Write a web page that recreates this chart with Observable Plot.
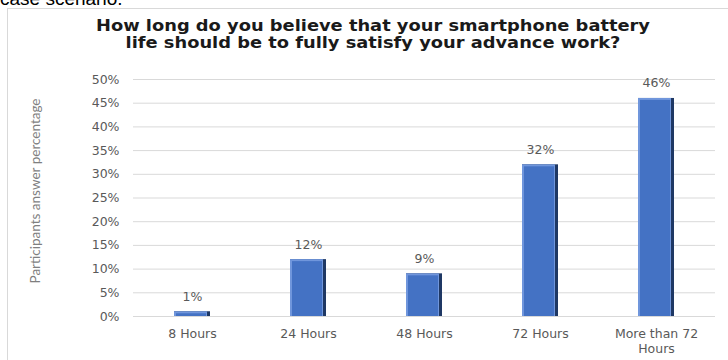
<!DOCTYPE html>
<html>
<head>
<meta charset="utf-8">
<script src="https://cdn.jsdelivr.net/npm/d3@7"></script>
<script src="https://cdn.jsdelivr.net/npm/@observablehq/plot@0.6"></script>
<style>
  html, body { margin: 0; padding: 0; background: #fff; }
  #wrap { position: relative; width: 728px; height: 360px; overflow: hidden; background: #fff; }
  #above { position: absolute; left: 0; top: -12px; font-family: "Liberation Sans", Arial, sans-serif; font-size: 19px; color: #000; white-space: nowrap; }
  #box { position: absolute; left: 7px; top: 8px; width: 740px; height: 400px; border: 1px solid #d9d9d9; box-sizing: border-box; }
  #title { position: absolute; left: 0; width: 746px; top: 18px; text-align: center; font-family: "DejaVu Sans", sans-serif; font-weight: 700; font-size: 15.5px; line-height: 16.5px; color: #1a1a1a; white-space: nowrap; transform: scaleX(1.15); transform-origin: 373px 0; }
  #chart { position: absolute; left: 0; top: 0; }
</style>
</head>
<body>
<div id="wrap">
  <div id="above">case scenario.</div>
  <div id="box"></div>
  <div id="chart"></div>
  <div id="title">How long do you believe that your smartphone battery<br>life should be to fully satisfy your advance work?</div>
</div>
<script>
const categories = ["8 Hours", "24 Hours", "48 Hours", "72 Hours", "More than 72 Hours"];
const values = [1, 12, 9, 32, 46];
const xTickLabels = ["8 Hours", "24 Hours", "48 Hours", "72 Hours", "More than 72\nHours"];
const yTicks = [0, 5, 10, 15, 20, 25, 30, 35, 40, 45, 50];
const yTitle = "Participants answer percentage";

const data = categories.map((c, i) => ({cat: c, value: values[i], label: xTickLabels[i]}));

const chart = Plot.plot({
  width: 728,
  height: 360,
  marginLeft: 133,
  marginRight: 13,
  marginTop: 79,
  marginBottom: 44,
  x: {domain: categories, paddingInner: 0.69, paddingOuter: 0.35, axis: null},
  y: {domain: [0, 50], axis: null},
  style: {fontFamily: "DejaVu Sans, sans-serif", background: "transparent", overflow: "visible"},
  marks: [
    Plot.ruleY(yTicks, {stroke: "#d9d9d9", strokeWidth: 1}),
    Plot.axisY(yTicks, {tickSize: 0, tickPadding: 14, tickFormat: d => d + "%", fontSize: 12.5, fill: "#595959", label: null}),
    Plot.barY(data, {x: "cat", y: "value", fill: "#1f3864"}),
    Plot.barY(data, {x: "cat", y: "value", fill: "#7096dc", insetRight: 3}),
    Plot.barY(data, {x: "cat", y: "value", fill: "#4472c4", insetLeft: 2, insetRight: 4, insetTop: 2}),
    Plot.text(data, {x: "cat", y: 0, text: "label", dy: 11, lineAnchor: "top", fontSize: 12.5, fill: "#595959", lineHeight: 1.2}),
    Plot.text(data, {x: "cat", y: "value", text: d => d.value + "%", dy: -15, fontSize: 12.5, fill: "#595959"}),
    Plot.text([yTitle], {frameAnchor: "left", dx: -98, dy: -7, rotate: -90, textAnchor: "middle", fontSize: 13.5, fill: "#7f7f7f", fontFamily: "Lato, sans-serif"})
  ]
});
document.getElementById("chart").appendChild(chart);
</script>
</body>
</html>
